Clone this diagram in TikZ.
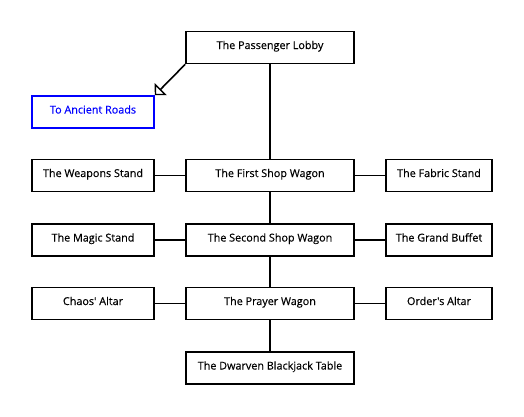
\documentclass[tikz,border=0pt]{standalone}
\usepackage{fontspec}
\setmainfont{Open Sans}[Ligatures=TeXOff,FakeBold=0.4]
\usetikzlibrary{arrows.meta}
\begin{document}
\begin{tikzpicture}[x=1pt,y=-1pt,
  box/.style={draw=black,line width=1.6pt,rectangle,inner sep=0pt,minimum height=32pt,text height=5.5pt,text depth=2.5pt,font=\fontsize{10.8}{13}\selectfont,text=black},
  mid/.style={box,minimum width=168pt},
  link/.style={line width=1.6pt,draw=black}]
\useasboundingbox (0,0) rectangle (524,416);
\node[mid] (lobby) at (270,47.5) {The Passenger Lobby};
\node[box,draw=blue,text=blue,minimum width=122pt] (roads) at (93,112) {To Ancient Roads};
\node[mid] (first) at (270,175.5) {The First Shop Wagon};
\node[box,minimum width=122pt] (weapons) at (93,175.5) {The Weapons Stand};
\node[box,minimum width=106pt] (fabric) at (439,175.5) {The Fabric Stand};
\node[mid] (second) at (270,240) {The Second Shop Wagon};
\node[box,minimum width=122pt] (magic) at (93,240) {The Magic Stand};
\node[box,minimum width=106pt] (buffet) at (439,240) {The Grand Buffet};
\node[mid] (prayer) at (270,303.5) {The Prayer Wagon};
\node[box,minimum width=122pt] (chaos) at (93,303.5) {Chaos' Altar};
\node[box,minimum width=106pt] (order) at (439,303.5) {Order's Altar};
\node[mid] (dwarf) at (270,368) {The Dwarven Blackjack Table};
\draw[link,-{Triangle[open,length=8.5pt,width=17pt,line width=1.4pt]}] (lobby.south west) -- (roads.north east);
\draw[link] (lobby) -- (first);
\draw[link] (first) -- (second);
\draw[link] (second) -- (prayer);
\draw[link] (prayer) -- (dwarf);
\draw[link] (weapons) -- (first);
\draw[link] (first) -- (fabric);
\draw[link] (magic) -- (second);
\draw[link] (second) -- (buffet);
\draw[link] (chaos) -- (prayer);
\draw[link] (prayer) -- (order);
\end{tikzpicture}
\end{document}
